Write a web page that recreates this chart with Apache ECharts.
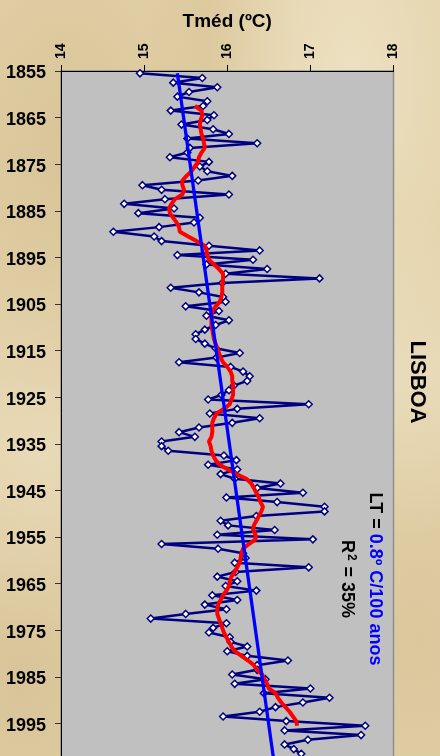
<!DOCTYPE html>
<html>
<head>
<meta charset="utf-8">
<script src="https://cdn.jsdelivr.net/npm/echarts@6/dist/echarts.min.js"></script>
<style>
html,body{margin:0;padding:0;}
body{
  width:440px;height:756px;overflow:hidden;
  background-color:#e3d2aa;
  background-image:
    radial-gradient(ellipse at 15% 20%, rgba(205,180,130,0.45), transparent 35%),
    radial-gradient(ellipse at 80% 10%, rgba(245,236,212,0.55), transparent 30%),
    radial-gradient(ellipse at 10% 60%, rgba(240,228,200,0.5), transparent 30%),
    radial-gradient(ellipse at 90% 50%, rgba(240,230,205,0.5), transparent 30%),
    radial-gradient(ellipse at 5% 90%, rgba(200,175,125,0.4), transparent 30%),
    radial-gradient(ellipse at 95% 85%, rgba(205,182,135,0.4), transparent 30%),
    radial-gradient(ellipse at 50% 3%, rgba(210,188,140,0.4), transparent 25%);
}
#chart{width:440px;height:756px;}
</style>
</head>
<body>
<div id="chart"></div>
<script>
// Categories (years) on the vertical axis
var years = [1855,1856,1857,1858,1859,1860,1861,1862,1863,1864,1865,1866,1867,1868,1869,1870,1871,1872,1873,1874,1875,1876,1877,1878,1879,1880,1881,1882,1883,1884,1885,1886,1887,1888,1889,1890,1891,1892,1893,1894,1895,1896,1897,1898,1899,1900,1901,1902,1903,1904,1905,1906,1907,1908,1909,1910,1911,1912,1913,1914,1915,1916,1917,1918,1919,1920,1921,1922,1923,1924,1925,1926,1927,1928,1929,1930,1931,1932,1933,1934,1935,1936,1937,1938,1939,1940,1941,1942,1943,1944,1945,1946,1947,1948,1949,1950,1951,1952,1953,1954,1955,1956,1957,1958,1959,1960,1961,1962,1963,1964,1965,1966,1967,1968,1969,1970,1971,1972,1973,1974,1975,1976,1977,1978,1979,1980,1981,1982,1983,1984,1985,1986,1987,1988,1989,1990,1991,1992,1993,1994,1995,1996,1997,1998,1999,2000,2001,2002,2003,2004,2005];

// Annual mean temperature (ºC), 1855 .. 2001
var tempYearStart = 1855;
var tempValues = [14.95,15.70,15.35,15.88,15.54,15.40,15.76,15.71,15.32,15.84,
15.76,15.45,15.83,16.02,15.52,16.36,15.55,15.52,15.31,15.78,
15.67,15.76,16.06,15.65,14.98,15.21,16.02,15.25,14.76,15.36,
14.93,15.67,15.60,15.18,14.63,15.12,15.21,15.78,16.39,15.40,
16.31,15.75,16.48,15.98,17.11,15.94,15.32,15.66,15.95,15.98,
15.50,15.90,15.75,16.02,15.86,15.73,15.62,15.62,15.73,15.86,
16.15,15.87,15.42,16.04,16.19,16.27,16.24,16.08,16.02,15.93,
15.77,16.98,16.12,15.79,16.39,16.06,15.66,15.42,15.61,15.21,
15.21,15.29,15.96,16.11,15.77,16.12,15.92,16.09,16.64,16.36,
16.91,15.99,16.60,17.17,17.17,16.35,15.92,16.01,16.57,15.88,
17.03,15.21,15.89,16.19,16.22,16.09,16.98,16.10,15.88,16.12,
15.98,16.35,15.82,16.12,15.73,15.99,15.50,15.08,15.99,15.83,
15.78,16.03,16.04,16.24,16.00,16.24,16.73,16.36,16.36,16.06,
16.46,16.09,17.00,16.44,17.23,16.91,16.58,16.39,15.95,16.71,
17.66,16.69,17.61,16.97,16.69,16.80,16.89];

// Moving average (red line), 1862 .. 1995
var maYearStart = 1862;
var maValues = [15.61,15.69,15.70,15.68,15.67,15.68,15.69,15.71,15.72,15.73,
15.69,15.66,15.65,15.61,15.57,15.51,15.46,15.46,15.48,15.46,
15.37,15.33,15.30,15.31,15.35,15.39,15.42,15.43,15.53,15.63,
15.73,15.75,15.76,15.78,15.84,15.90,15.95,15.95,15.94,15.94,
15.94,15.93,15.91,15.86,15.82,15.81,15.81,15.81,15.82,15.83,
15.84,15.86,15.88,15.90,15.92,15.95,16.00,16.04,16.06,16.06,
16.07,16.07,16.07,16.05,16.03,15.96,15.87,15.84,15.82,15.82,
15.82,15.81,15.78,15.80,15.81,15.83,15.86,15.91,16.01,16.11,
16.23,16.29,16.32,16.35,16.38,16.40,16.43,16.41,16.38,16.35,
16.32,16.31,16.34,16.34,16.26,16.19,16.17,16.16,16.15,16.12,
16.09,16.05,16.03,16.02,15.99,15.95,15.92,15.89,15.88,15.88,
15.90,15.92,15.94,15.96,15.99,16.02,16.05,16.09,16.17,16.25,
16.32,16.36,16.42,16.45,16.48,16.50,16.58,16.61,16.65,16.70,
16.75,16.79,16.83,16.84];

// Linear trend (blue line) end points
var trendYears = [1855, 2005];
var trendValues = [15.40, 16.58];

// Temperature axis ticks
var tempMin = 14, tempMax = 18, tempStep = 1;

function alignTo(startYear, vals) {
  return years.map(function (y) {
    var i = y - startYear;
    return (i >= 0 && i < vals.length) ? vals[i] : null;
  });
}
var tempData = alignTo(tempYearStart, tempValues);
var maData = alignTo(maYearStart, maValues);
var trendData = years.map(function (y) {
  var k = trendYears.indexOf(y);
  return k >= 0 ? trendValues[k] : null;
});

var FONT = '"Liberation Sans", Arial, Helvetica, sans-serif';
var chart = echarts.init(document.getElementById('chart'), null, {renderer: 'canvas'});
chart.setOption({
  animation: false,
  backgroundColor: 'transparent',
  grid: {
    left: 61, top: 71, right: 46.5, height: 703.7,
    outerBoundsMode: 'none', containLabel: false,
    show: true, backgroundColor: '#c0c0c0',
    borderColor: '#8e8e8e', borderWidth: 1.5
  },
  xAxis: {
    type: 'value', position: 'top',
    min: tempMin, max: tempMax, interval: tempStep,
    name: 'Tméd (ºC)', nameLocation: 'middle', nameGap: 40,
    nameTextStyle: {fontFamily: FONT, fontSize: 19, fontWeight: 'bold', color: '#000'},
    axisLine: {show: true, lineStyle: {color: '#000', width: 1}},
    axisTick: {show: true, inside: false, length: 6, lineStyle: {color: '#000', width: 1}},
    axisLabel: {rotate: -90, margin: 12, fontFamily: FONT, fontSize: 14, fontWeight: 'bold', color: '#000'},
    splitLine: {show: false}
  },
  yAxis: {
    type: 'category', inverse: true, position: 'left',
    data: years.map(String), boundaryGap: true,
    axisLine: {show: true, lineStyle: {color: '#000', width: 1}},
    axisTick: {show: true, interval: 9, length: 6, lineStyle: {color: '#333', width: 1}},
    axisLabel: {interval: 9, margin: 15, fontFamily: FONT, fontSize: 18, fontWeight: 'bold', color: '#000'},
    splitLine: {show: false}
  },
  series: [
    {
      type: 'line', name: 'Tméd', data: tempData,
      symbol: 'diamond', symbolSize: 7, showSymbol: true, showAllSymbol: true,
      lineStyle: {color: '#000080', width: 2.5},
      itemStyle: {color: '#ffffff', borderColor: '#000080', borderWidth: 1.5},
      z: 2
    },
    {
      type: 'line', name: 'Média móvel', data: maData,
      showSymbol: false, symbol: 'none',
      lineStyle: {color: '#ff0000', width: 4},
      z: 3
    },
    {
      type: 'line', name: 'Tendência', data: trendData, connectNulls: true,
      showSymbol: false, symbol: 'none',
      lineStyle: {color: '#0000ff', width: 3.3},
      z: 4
    }
  ],
  graphic: [
    {
      type: 'text', x: 417, y: 382, rotation: -Math.PI / 2,
      style: {text: 'LISBOA', align: 'center', verticalAlign: 'middle',
        font: 'bold 22px ' + FONT, fill: '#000'}
    },
    {
      type: 'text', x: 375, y: 579, rotation: -Math.PI / 2,
      style: {
        text: '{k|LT = }{b|0.8º C/100 anos}', align: 'center', verticalAlign: 'middle',
        font: 'bold 18px ' + FONT,
        rich: {
          k: {fill: '#000', fontFamily: FONT, fontSize: 18, fontWeight: 'bold'},
          b: {fill: '#0000ff', fontFamily: FONT, fontSize: 18, fontWeight: 'bold'}
        }
      }
    },
    {
      type: 'text', x: 347, y: 579, rotation: -Math.PI / 2,
      style: {
        text: '{r|R}{s|2}{r| = 35%}', align: 'center', verticalAlign: 'middle',
        font: 'bold 18px ' + FONT,
        rich: {
          r: {fill: '#000', fontFamily: FONT, fontSize: 18, fontWeight: 'bold'},
          s: {fill: '#000', fontFamily: FONT, fontSize: 12, fontWeight: 'bold', verticalAlign: 'top', padding: [0, 1, 8, 1]}
        }
      }
    }
  ]
});
</script>
</body>
</html>
